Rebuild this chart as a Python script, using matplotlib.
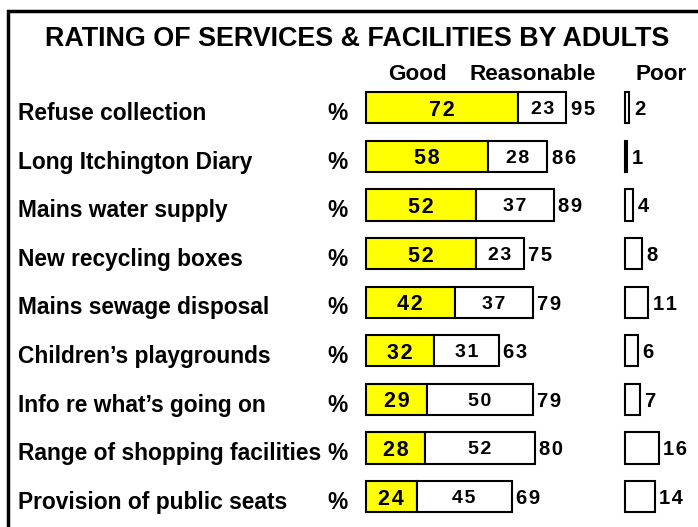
import numpy as np
import matplotlib.pyplot as plt
from matplotlib.patches import Rectangle

plt.rcParams['font.family'] = ['Liberation Sans', 'DejaVu Sans']
plt.rcParams['font.weight'] = 'bold'

# Données du graphique
services = ['Refuse collection', 'Long Itchington Diary', 'Mains water supply',
            'New recycling boxes', 'Mains sewage disposal', "Children\u2019s playgrounds",
            "Info re what\u2019s going on", 'Range of shopping facilities',
            'Provision of public seats']
good = [72, 58, 52, 52, 42, 32, 29, 28, 24]
reasonable = [23, 28, 37, 23, 37, 31, 50, 52, 45]
total = [95, 86, 89, 75, 79, 63, 79, 80, 69]
poor = [2, 1, 4, 8, 11, 6, 7, 16, 14]
headers = ['Good', 'Reasonable', 'Poor']

# Mise en page (unités : pourcentage sur l'axe x, rangée sur l'axe y)
px = 2.11                 # pixels par point de pourcentage
x0 = 366                  # pixel du début des barres
poor_start = 122.75       # décalage de la colonne "Poor"
row0, row_h = 107.8, 48.6
bar_h = 0.64


def spaced(v):
    # léger espacement des chiffres comme dans l'original
    return '\u200a'.join(str(v))


fig = plt.figure(figsize=(6.98, 5.27), dpi=100)
ax = fig.add_axes([0, 0, 1, 1])
ax.set_xlim(-x0 / px, (698 - x0) / px)
ax.set_ylim((527 - row0) / row_h, -row0 / row_h)
ax.axis('off')

y = np.arange(len(services))
ax.barh(y, good, height=bar_h, color='#ffff00', edgecolor='black', linewidth=1.5)
ax.barh(y, reasonable, left=good, height=bar_h, color='white', edgecolor='black', linewidth=1.5)
ax.barh(y, poor, left=poor_start, height=bar_h, color='white', edgecolor='black', linewidth=1.5)

lab_off = 0.25
for i in range(len(services)):
    ax.text((18 - x0) / px, y[i] + lab_off, services[i], fontsize=16.4, va='baseline', ha='left')
    ax.text(-13.5, y[i] + lab_off, '%', fontsize=16.4, va='baseline', ha='center')
    ax.text(good[i] / 2, y[i], spaced(good[i]), fontsize=15.5, va='center_baseline', ha='center')
    ax.text(good[i] + reasonable[i] / 2, y[i], spaced(reasonable[i]), fontsize=14,
            va='center_baseline', ha='center')
    ax.text(good[i] + reasonable[i] + 2.0, y[i], spaced(total[i]), fontsize=14.5,
            va='center_baseline', ha='left')
    ax.text(poor_start + poor[i] + 2.2, y[i], spaced(poor[i]), fontsize=14.5,
            va='center_baseline', ha='left')

# En-têtes des colonnes
head_y = (80 - row0) / row_h
ax.text(24.2, head_y, headers[0], fontsize=16.2, va='baseline', ha='center')
ax.text(78.9, head_y, headers[1], fontsize=16.2, va='baseline', ha='center')
ax.text(140.1, head_y, headers[2], fontsize=16.2, va='baseline', ha='center')

fig.text(357.5 / 698, 1 - 46 / 527, 'RATING OF SERVICES & FACILITIES BY ADULTS',
         fontsize=19.4, ha='center', va='baseline')

# Cadre
fig.patches.append(Rectangle((8 / 698, -0.05), 1.0, 1.05 - 11 / 527, transform=fig.transFigure,
                             fill=False, edgecolor='black', linewidth=2.5))

fig.savefig('out.png', dpi=100)
